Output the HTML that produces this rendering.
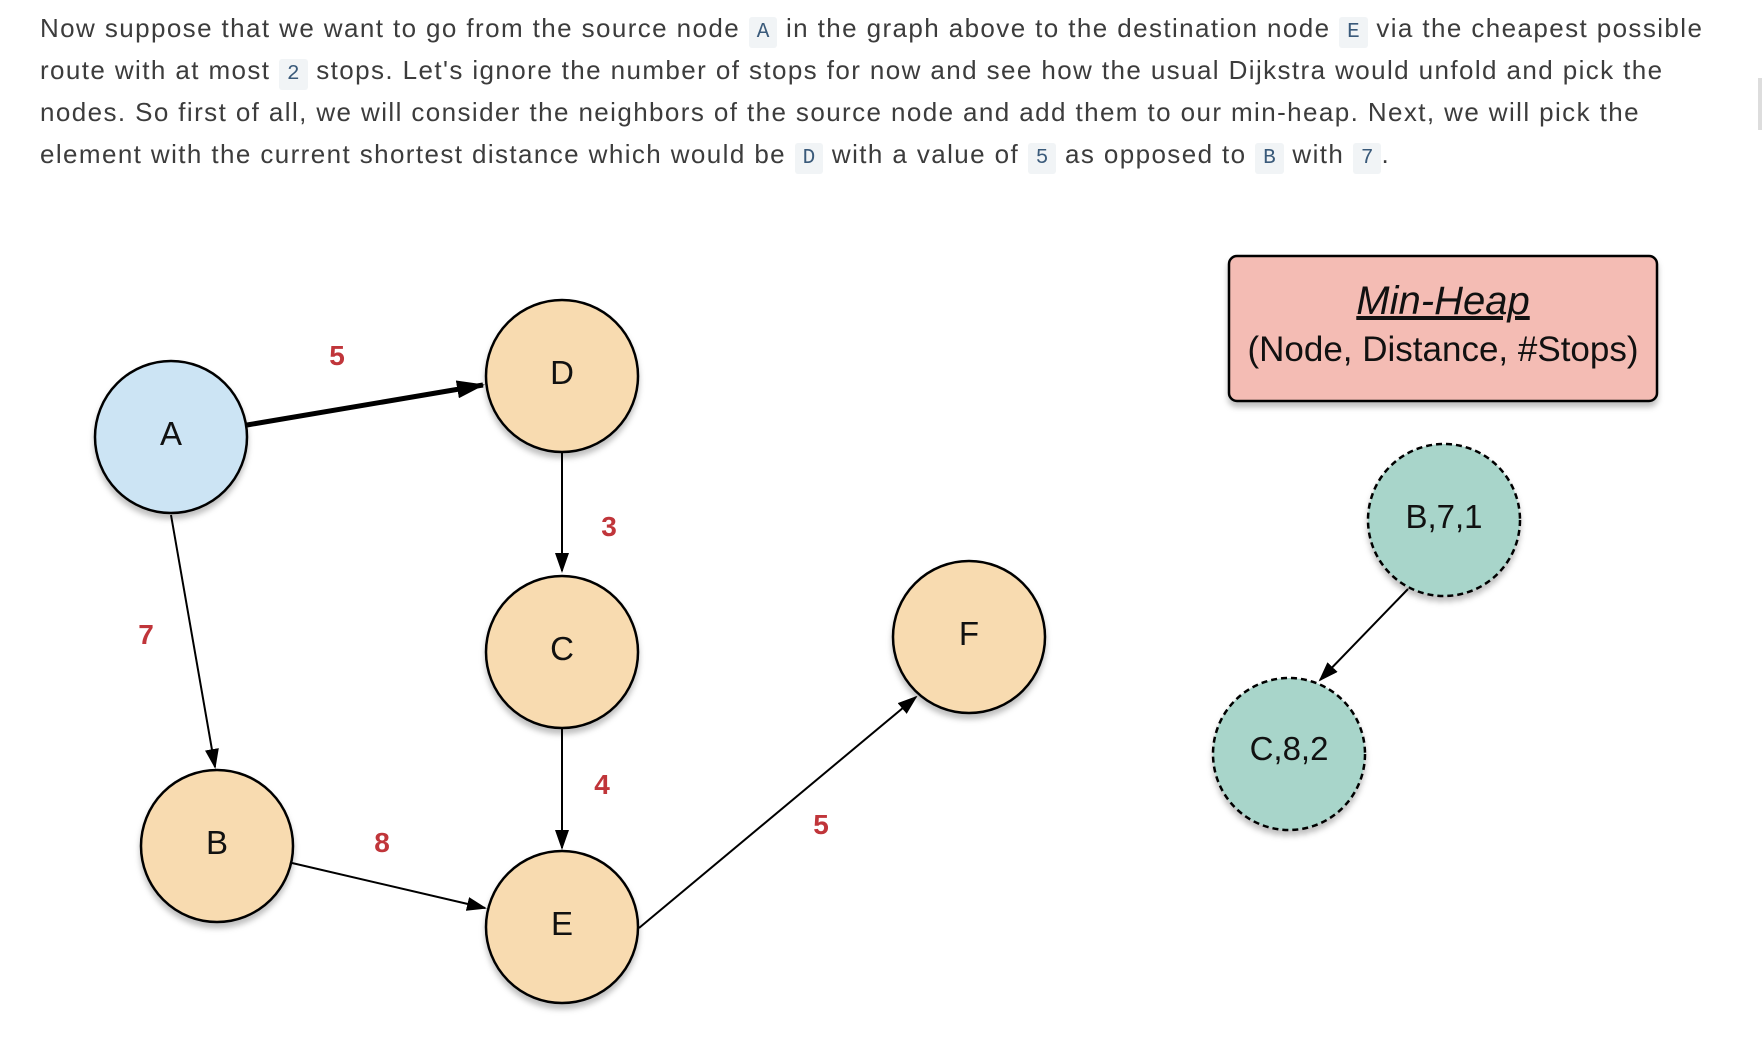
<!DOCTYPE html>
<html><head><meta charset="utf-8"><style>
body{margin:0;width:1762px;height:1052px;background:#fff;overflow:hidden;position:relative;font-family:"Liberation Sans",sans-serif}
.l{position:absolute;left:40px;font-size:26px;letter-spacing:1.4px;color:#3c3c3c;white-space:nowrap}
code{font-family:"Liberation Mono",monospace;font-size:21px;letter-spacing:0;background:#f1f4f6;color:#3a5a7a;padding:4px 8px;border-radius:3px}
</style></head><body>
<div class="l" style="top:13px">Now suppose that we want to go from the source node <code>A</code> in the graph above to the destination node <code>E</code> via the cheapest possible</div>
<div class="l" style="top:55px">route with at most <code>2</code> stops. Let's ignore the number of stops for now and see how the usual Dijkstra would unfold and pick the</div>
<div class="l" style="top:97px">nodes. So first of all, we will consider the neighbors of the source node and add them to our min-heap. Next, we will pick the</div>
<div class="l" style="top:139px">element with the current shortest distance which would be <code>D</code> with a value of <code>5</code> as opposed to <code>B</code> with <code>7</code>.</div>
<div style="position:absolute;left:1758px;top:78px;width:4px;height:52px;background:#ddd"></div>
<svg width="1762" height="1052" style="position:absolute;left:0;top:0">
<defs>
<marker id="ar2" markerWidth="20" markerHeight="14" refX="18" refY="7" orient="auto" markerUnits="userSpaceOnUse"><path d="M0,0 L20,7 L0,14 Z" fill="#000"/></marker>
<marker id="ar3" markerWidth="28" markerHeight="18" refX="26" refY="9" orient="auto" markerUnits="userSpaceOnUse"><path d="M0,0 L28,9 L0,18 Z" fill="#000"/></marker>
<filter id="sh" x="-20%" y="-20%" width="140%" height="150%"><feDropShadow dx="0" dy="5" stdDeviation="3" flood-color="#000" flood-opacity="0.25"/></filter>
</defs>
<g stroke="#000" stroke-width="2" fill="none">
<line x1="247" y1="425" x2="483" y2="385" stroke-width="5" stroke="#000" style="marker-end:url(#ar3)" />
<line x1="562" y1="453" x2="562" y2="571" style="marker-end:url(#ar2)"/>
<line x1="171" y1="515" x2="215" y2="767" style="marker-end:url(#ar2)"/>
<line x1="562" y1="728" x2="562" y2="848" style="marker-end:url(#ar2)"/>
<line x1="292" y1="863" x2="485" y2="908" style="marker-end:url(#ar2)"/>
<line x1="639" y1="928" x2="916" y2="697" style="marker-end:url(#ar2)"/>
<line x1="1408" y1="589" x2="1320" y2="680" style="marker-end:url(#ar2)"/>
</g>
<g stroke="#000" stroke-width="2.5" filter="url(#sh)">
<circle cx="171" cy="437" r="76" fill="#cce4f4"/>
<circle cx="562" cy="376" r="76" fill="#f8dbb0"/>
<circle cx="562" cy="652" r="76" fill="#f8dbb0"/>
<circle cx="969" cy="637" r="76" fill="#f8dbb0"/>
<circle cx="217" cy="846" r="76" fill="#f8dbb0"/>
<circle cx="562" cy="927" r="76" fill="#f8dbb0"/>
<circle cx="1444" cy="520" r="76" fill="#a8d5ca" stroke-dasharray="6,4"/>
<circle cx="1289" cy="754" r="76" fill="#a8d5ca" stroke-dasharray="6,4"/>
<rect x="1229" y="256" width="428" height="145" rx="8" fill="#f4bcb4"/>
</g>
<g font-family="Liberation Sans,sans-serif" font-size="33" text-anchor="middle" fill="#111">
<text x="171" y="445">A</text><text x="562" y="384">D</text><text x="562" y="660">C</text>
<text x="969" y="645">F</text><text x="217" y="854">B</text><text x="562" y="935">E</text>
<text x="1444" y="528">B,7,1</text><text x="1289" y="760">C,8,2</text>
<text x="1443" y="314" font-style="italic" font-size="40" text-decoration="underline">Min-Heap</text>
<text x="1443" y="361" font-size="35">(Node, Distance, #Stops)</text>
</g>
<g font-family="Liberation Sans,sans-serif" font-size="28" font-weight="bold" text-anchor="middle" fill="#c0353a">
<text x="337" y="365">5</text><text x="609" y="536">3</text><text x="146" y="644">7</text>
<text x="602" y="794">4</text><text x="382" y="852">8</text><text x="821" y="834">5</text>
</g>
</svg>
</body></html>
